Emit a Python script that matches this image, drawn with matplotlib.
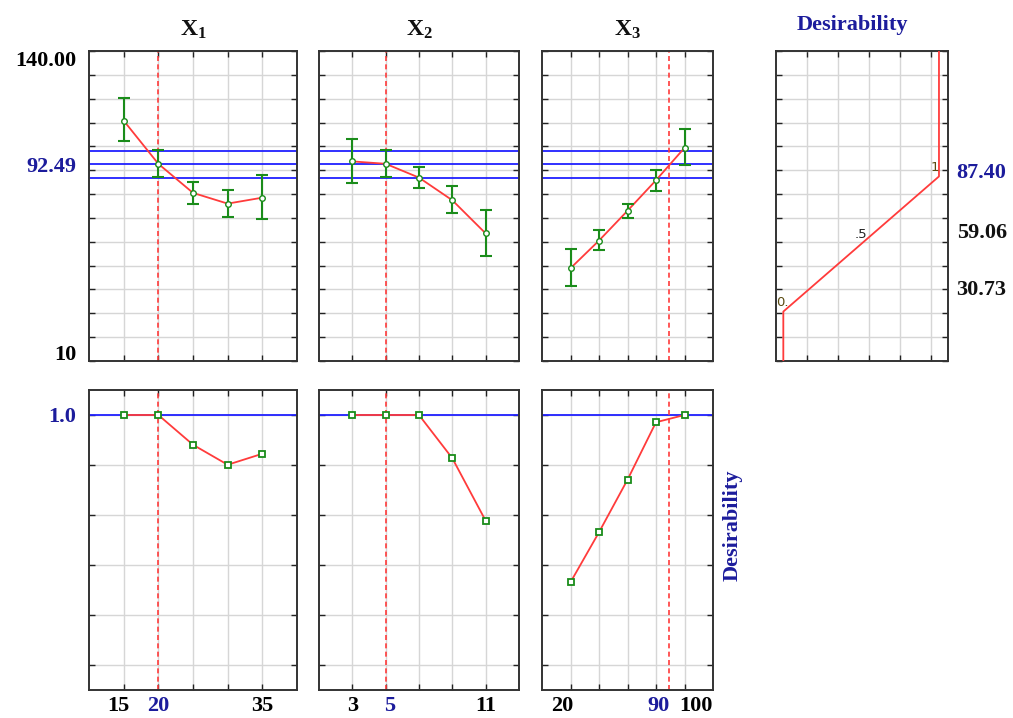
import numpy as np
import matplotlib.pyplot as plt
from matplotlib.transforms import ScaledTranslation

plt.rcParams['font.family'] = ['Liberation Serif', 'DejaVu Serif']
plt.rcParams['mathtext.fontset'] = 'custom'
plt.rcParams['mathtext.bf'] = 'Liberation Serif:bold'
plt.rcParams['mathtext.rm'] = 'Liberation Serif:bold'

NAVY = '#1c1c9c'
RED = '#ff3b3b'
GREEN = '#1a8c1a'
BLUE = '#2020ff'

# factor levels and current settings
x1_levels = [15, 20, 25, 30, 35]
x2_levels = [3, 5, 7, 9, 11]
x3_levels = [20, 40, 60, 80, 100]
x_current = [20, 5, 89.4]
x_current_labels = ['20', '5', '90']
x_min_labels = ['15', '3', '20']
x_max_labels = ['35', '11', '100']
x_limits = [(10, 40), (1, 13), (0, 120)]

# predicted response with confidence limits
x1_pred = [110.8, 92.7, 80.5, 76.0, 78.5]
x1_low = [102.2, 87.2, 76.0, 70.5, 69.4]
x1_high = [120.3, 98.3, 85.1, 81.9, 87.9]
x2_pred = [93.7, 92.7, 86.9, 77.4, 63.5]
x2_low = [84.7, 87.2, 82.6, 71.9, 54.2]
x2_high = [102.9, 98.3, 91.3, 83.3, 73.3]
x3_pred = [48.9, 60.5, 73.0, 85.8, 99.4]
x3_low = [41.6, 56.6, 69.8, 81.3, 92.3]
x3_high = [56.9, 64.9, 75.8, 90.2, 107.3]

response_current = 92.49
response_band = [86.9, 98.2]

# desirability at each level
x1_desir = [1.0, 1.0, 0.881, 0.801, 0.845]
x2_desir = [1.0, 1.0, 1.0, 0.827, 0.577]
x3_desir = [0.331, 0.531, 0.741, 0.971, 1.0]
desir_current = 1.0

# desirability function of the response
d_resp = [10, 30.73, 59.06, 87.40, 140]
d_value = [0.0, 0.0, 0.5, 1.0, 1.0]
d_labels = ['0.', '.5', '1']
d_resp_labels = ['87.40', '59.06', '30.73']

levels = [x1_levels, x2_levels, x3_levels]
preds = [x1_pred, x2_pred, x3_pred]
lows = [x1_low, x2_low, x3_low]
highs = [x1_high, x2_high, x3_high]
desirs = [x1_desir, x2_desir, x3_desir]
titles = [r'$\mathbf{X_1}$', r'$\mathbf{X_2}$', r'$\mathbf{X_3}$']

# small nudges (pixels) of the x labels: min, current, max
x_label_shift = [(-5, 0, 0), (0, 4, 0), (-8, -11, 11)]

FS = 16

fig = plt.figure(figsize=(10.13, 7.18), dpi=100)

lefts = [89, 319, 542]
widths = [208, 200, 171]
W, H = 1013, 718


def shift(label, dx_px, dy_px):
    label.set_transform(label.get_transform() +
                        ScaledTranslation(dx_px / 100, dy_px / 100, fig.dpi_scale_trans))


def style(ax):
    ax.tick_params(which='major', direction='in', length=4, width=1,
                   top=True, right=True, labelleft=False, labelbottom=False,
                   color='#222222')
    ax.tick_params(which='minor', length=0, labelsize=FS)
    ax.tick_params(axis='x', which='minor', pad=4.5)
    ax.tick_params(axis='y', which='minor', pad=9)
    ax.grid(True, color='#d6d6d6', linewidth=1, zorder=0)
    ax.set_axisbelow(True)
    for s in ax.spines.values():
        s.set_linewidth(1.4)
        s.set_color('#333333')
    ax.xaxis.remove_overlapping_locs = False
    ax.yaxis.remove_overlapping_locs = False


for i in range(3):
    lev = np.array(levels[i])
    # top: predicted response
    ax = fig.add_axes([lefts[i] / W, (H - 361) / H, widths[i] / W, 310 / H])
    style(ax)
    ax.set_xlim(*x_limits[i])
    ax.set_ylim(10, 140)
    ax.set_xticks(lev)
    ax.set_yticks(np.arange(10, 141, 10))
    for yv in response_band + [response_current]:
        ax.axhline(yv, color=BLUE, linewidth=1.3, zorder=2)
    ax.axvline(x_current[i], color=RED, linestyle=(0, (3, 2)), linewidth=1.2, zorder=2)
    ax.plot(lev, preds[i], color=RED, linewidth=1.3, zorder=3)
    p = np.array(preds[i])
    err = [p - np.array(lows[i]), np.array(highs[i]) - p]
    ax.errorbar(lev, p, yerr=err, fmt='o', color=GREEN, ecolor=GREEN,
                markerfacecolor='white', markersize=4, elinewidth=1.5,
                capsize=4, capthick=1.5, zorder=4)
    ax.set_title(titles[i], fontsize=17, pad=11, color='#111111')
    if i == 0:
        ax.set_yticks([140, response_current, 10], minor=True)
        ax.set_yticklabels(['140.00', f'{response_current:.2f}', '10'],
                           minor=True, fontweight='bold')
        yl = ax.yaxis.get_ticklabels(minor=True)
        yl[1].set_color(NAVY)
        shift(yl[0], 0, -8)
        shift(yl[2], 0, 9)

    # bottom: desirability
    bx = fig.add_axes([lefts[i] / W, (H - 690) / H, widths[i] / W, 300 / H])
    style(bx)
    bx.set_xlim(*x_limits[i])
    bx.set_ylim(-0.1, 1.1)
    bx.set_xticks(lev)
    bx.set_yticks(np.arange(0, 1.01, 0.2))
    bx.axhline(desir_current, color=BLUE, linewidth=1.3, zorder=2)
    bx.axvline(x_current[i], color=RED, linestyle=(0, (3, 2)), linewidth=1.2, zorder=2)
    bx.plot(lev, desirs[i], color=RED, linewidth=1.3, zorder=3)
    bx.plot(lev, desirs[i], 's', color=GREEN, markerfacecolor='white',
            markersize=4.5, markeredgewidth=1.3, zorder=4)
    bx.set_xticks([lev[0], x_current[i], lev[-1]], minor=True)
    bx.set_xticklabels([x_min_labels[i], x_current_labels[i], x_max_labels[i]],
                       minor=True, fontweight='bold')
    tl = bx.xaxis.get_ticklabels(minor=True)
    tl[1].set_color(NAVY)
    for lab, s in zip(tl, x_label_shift[i]):
        if s:
            shift(lab, s, 0)
    if i == 0:
        bx.set_yticks([desir_current], minor=True)
        bx.set_yticklabels([f'{desir_current:.1f}'], minor=True, fontweight='bold')
        bx.yaxis.get_ticklabels(minor=True)[0].set_color(NAVY)

# desirability function panel
dx = fig.add_axes([776 / W, (H - 361) / H, 172 / W, 310 / H])
style(dx)
dx.set_xlim(-0.047, 1.058)
dx.set_ylim(10, 140)
dx.set_xticks([0.15, 0.35, 0.55, 0.75, 0.95])
dx.set_yticks(np.arange(10, 141, 10))
dx.plot(d_value, d_resp, color=RED, linewidth=1.3, zorder=3)
dx.annotate(d_labels[0], (d_value[1], d_resp[1]), xytext=(-5, 4),
            textcoords='offset points', fontsize=9.5, family='DejaVu Sans',
            color='#5a4a10')
dx.annotate(d_labels[1], (d_value[2], d_resp[2]), xytext=(0, 4),
            textcoords='offset points', fontsize=9.5, family='DejaVu Sans',
            color='#222222', ha='center')
dx.annotate(d_labels[2], (d_value[3], d_resp[3]), xytext=(0, 4),
            textcoords='offset points', fontsize=9.5, family='DejaVu Sans',
            color='#5a4a10', ha='right')
for lab, yf, c in zip(d_resp_labels, [0.606, 0.413, 0.229], [NAVY, '#111111', '#111111']):
    dx.text(1.05, yf, lab, transform=dx.transAxes, fontsize=FS,
            fontweight='bold', color=c, va='center', ha='left')
fig.text(852 / W, 1 - 25 / H, 'Desirability', fontsize=FS, fontweight='bold',
         color=NAVY, ha='center', va='center')
fig.text(733 / W, 1 - 525 / H, 'Desirability', fontsize=FS, fontweight='bold',
         color=NAVY, ha='center', va='center', rotation=90)

fig.savefig('out.png', dpi=100)
